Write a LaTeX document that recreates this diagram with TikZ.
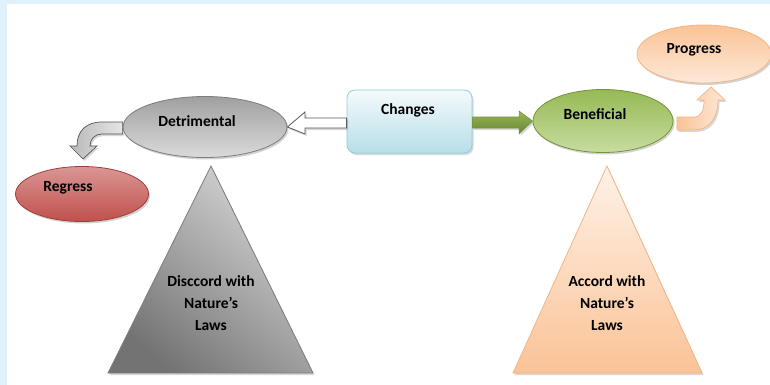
\documentclass[tikz,border=0pt]{standalone}
\usepackage{fontspec}
\setmainfont{Carlito}
\usetikzlibrary{shapes.geometric,shadows,calc}
\definecolor{bgblue}{RGB}{224,241,251}
\definecolor{grayA}{RGB}{160,160,160}
\definecolor{grayB}{RGB}{218,218,218}
\definecolor{grayE}{RGB}{125,125,125}
\definecolor{triL}{RGB}{215,215,215}
\definecolor{triD}{RGB}{115,115,115}
\definecolor{redA}{RGB}{218,150,148}
\definecolor{redB}{RGB}{192,80,77}
\definecolor{redE}{RGB}{160,62,60}
\definecolor{grnA}{RGB}{150,185,85}
\definecolor{grnB}{RGB}{200,220,160}
\definecolor{grnE}{RGB}{118,146,60}
\definecolor{pchA}{RGB}{250,195,150}
\definecolor{pchB}{RGB}{253,233,217}
\definecolor{pchE}{RGB}{247,180,130}
\definecolor{bluA}{RGB}{244,250,252}
\definecolor{bluB}{RGB}{183,222,232}
\definecolor{bluE}{RGB}{147,205,221}
\tikzset{
  lbl/.style={font=\fontsize{15.5}{18}\selectfont\bfseries, inner sep=0pt, align=center},
  tlbl/.style={font=\fontsize{15.5}{22}\selectfont\bfseries, inner sep=0pt, align=center},
  oval/.style={ellipse, inner sep=0pt, line width=0.8pt,
    drop shadow={shadow xshift=1.5pt, shadow yshift=-2pt, opacity=0.35}},
  shd/.style={drop shadow={shadow xshift=1.5pt, shadow yshift=-2pt, opacity=0.3}},
}
\begin{document}
\begin{tikzpicture}[x=1pt,y=-1pt]
\useasboundingbox (0,0) rectangle (770,385);
\fill[bgblue] (0,0) rectangle (770,385);
\fill[white] (7,4) rectangle (770,385);

% triangles
\path[shd, shade, top color=triL, bottom color=triD, shading angle=-40, draw=grayE, line width=0.8pt]
  (211,166) -- (313,373) -- (108,373) -- cycle;
\path[shd, shade, top color=pchB!60!white, bottom color=pchA, draw=pchE, line width=0.8pt]
  (607,166) -- (702,373) -- (513,373) -- cycle;
\node[tlbl] (disc) at (211,303) {Disccord with\\Nature’s\\Laws};
\node[tlbl] (acc) at (607,303) {Accord with\\Nature’s\\Laws};

% ellipses
\node[oval, minimum width=164pt, minimum height=61pt, top color=grayA, bottom color=grayB, draw=grayE] (det) at (205,127) {};
\node[oval, minimum width=133pt, minimum height=55pt, top color=redA, bottom color=redB, draw=redE] (reg) at (82,194) {};
\node[oval, minimum width=140pt, minimum height=63pt, top color=grnA, bottom color=grnB, draw=grnE] (ben) at (603,121) {};
\node[oval, minimum width=134pt, minimum height=58pt, top color=pchA, bottom color=pchB, draw=pchE] (pro) at (704,54) {};
\node[rounded corners=8pt, minimum width=125pt, minimum height=63pt, inner sep=0pt, line width=0.8pt,
  top color=bluA, bottom color=bluB, draw=bluE, shd] (chg) at (409.5,121.5) {};

\node[lbl] (detT) at (197,121) {Detrimental};
\node[lbl] (regT) at (68,188) {Regress};
\node[lbl] (benT) at (595,114) {Beneficial};
\node[lbl] (proT) at (694,50) {Progress};
\node[lbl] (chgT) at (408,110) {Changes};

% Changes -> Detrimental (hollow)
\path[fill=white, draw=gray!70!black, line width=0.8pt, shd]
  (chg.west |- 0,118) -- (305,118) -- (305,112) -- (det.east) -- (305,134) -- (305,128) -- (chg.west |- 0,128) -- cycle;
% Changes -> Beneficial (green)
\path[top color=grnA, bottom color=grnE!90!black, draw=grnE, line width=0.5pt, shd]
  (chg.east |- 0,117) -- (519,117) -- (519,111) -- (ben.west) -- (519,134) -- (519,128) -- (chg.east |- 0,128) -- cycle;
% Detrimental -> Regress (bent)
\path[shade, left color=gray!55, right color=gray!20, draw=gray!65!black, line width=0.7pt, shd]
  (det.west |- 0,122) -- (102,122) .. controls (86,122) and (77,131) .. (77,146) -- (70,146) -- (83,159) -- (97,146) -- (90,146)
  .. controls (90,139) and (95,134) .. (102,134) -- (det.west |- 0,134) -- cycle;
% Beneficial -> Progress (bent)
\path[shade, left color=pchA, right color=pchB, draw=pchE, line width=0.7pt, shd]
  (677,117) -- (694,117) .. controls (701,117) and (704,111) .. (704,100) -- (697,100) -- (711,87) -- (725,100) -- (718,100)
  .. controls (718,120) and (708,130) .. (694,130) -- (677,130) -- cycle;
\end{tikzpicture}
\end{document}
